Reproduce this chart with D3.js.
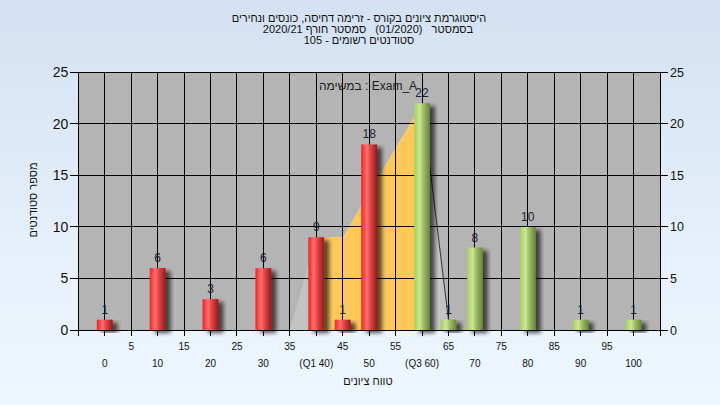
<!DOCTYPE html>
<html><head><meta charset="utf-8">
<script src="https://cdn.jsdelivr.net/npm/d3@7"></script>
<style>
html,body{margin:0;padding:0;}
svg{display:block;font-family:"Liberation Sans",Arial,sans-serif;}
.pre{white-space:pre;}
</style></head>
<body>
<svg id="chart" width="720" height="405"></svg>
<script>
// ---- data ----
const bins = [0, 10, 20, 30, 40, 45, 50, 60, 65, 70, 80, 90, 100];
const counts = [1, 6, 3, 6, 9, 1, 18, 22, 1, 8, 10, 1, 1];
const passMark = 60;
const q1 = 40, q3 = 60;
const curveX = [35, 40, 45, 60, 65, 65];
const curveY = [0, 9, 9, 22, 1, 0];
const minorTickValues = [5, 15, 25, 35, 45, 55, 65, 75, 85, 95];
const majorTickValues = [0, 10, 20, 30, 40, 50, 60, 70, 80, 90, 100];
const majorTickLabels = ["0", "10", "20", "30", "(Q1 40)", "50", "(Q3 60)", "70", "80", "90", "100"];
const yTicks = [0, 5, 10, 15, 20, 25];
const titleLines = [
  "היסטוגרמת ציונים בקורס - זרימה דחיסה, כונסים ונחירים",
  "בסמסטר   (01/2020)   סמסטר חורף 2020/21",
  "סטודנטים רשומים - 105"
];
const legendText = "במשימה : Exam_A";
const xTitle = "טווח ציונים";
const yTitle = "מספר סטודנטים";

// ---- layout ----
const W = 720, H = 405;
const L = 78.3, R = 660, T = 72.3, B = 330;
const svg = d3.select("#chart");
const defs = svg.append("defs");

const bg = defs.append("linearGradient").attr("id","bg").attr("x1",0).attr("y1",0).attr("x2",0).attr("y2",1);
bg.append("stop").attr("offset","0%").attr("stop-color","#d3e1f2");
bg.append("stop").attr("offset","70%").attr("stop-color","#e9f2fc");
bg.append("stop").attr("offset","100%").attr("stop-color","#eef6ff");

function cyl(id, c0, c1, c2, c3){
  const g = defs.append("linearGradient").attr("id",id).attr("x1",0).attr("y1",0).attr("x2",1).attr("y2",0);
  g.append("stop").attr("offset","0%").attr("stop-color",c0);
  g.append("stop").attr("offset","35%").attr("stop-color",c1);
  g.append("stop").attr("offset","55%").attr("stop-color",c2);
  g.append("stop").attr("offset","100%").attr("stop-color",c3);
}
cyl("red","#ff1c1c","#ff7272","#e84848","#8c1c1c");
cyl("green","#a6cf58","#cbe79a","#a4c468","#68803c");

const sh = defs.append("filter").attr("id","shadow").attr("x","-50%").attr("y","-20%").attr("width","200%").attr("height","140%");
sh.append("feGaussianBlur").attr("in","SourceAlpha").attr("stdDeviation",2).attr("result","b");
sh.append("feOffset").attr("in","b").attr("dx",5).attr("dy",3).attr("result","o");
sh.append("feComponentTransfer").attr("in","o").attr("result","s")
  .append("feFuncA").attr("type","linear").attr("slope",0.65);
const m = sh.append("feMerge");
m.append("feMergeNode").attr("in","s");
m.append("feMergeNode").attr("in","SourceGraphic");

svg.append("rect").attr("width",W).attr("height",H).attr("fill","url(#bg)");

const x = d3.scaleLinear().domain([-5,105]).range([L,R]);
const y = d3.scaleLinear().domain([0,25]).range([B,T]);

// plot background
svg.append("rect").attr("x",L).attr("y",T).attr("width",R-L).attr("height",B-T).attr("fill","#b4b4b4");

// curve area (light gray) and yellow IQR part
const pts = curveX.map((v,i)=>[v,curveY[i]]);
const area = d3.area().x(d=>x(d[0])).y0(y(0)).y1(d=>y(d[1]));
svg.append("path").datum(pts).attr("d",area).attr("fill","#c3c3c3");
const cp = defs.append("clipPath").attr("id","iqr");
cp.append("rect").attr("x",x(q1)).attr("y",T).attr("width",x(q3)-x(q1)).attr("height",B-T);
svg.append("path").datum(pts).attr("d",area).attr("fill","#ffc95a").attr("clip-path","url(#iqr)");

// grid
const grid = svg.append("g").attr("stroke","#000").attr("stroke-width",1).attr("shape-rendering","crispEdges");
grid.selectAll("line.h").data(yTicks.filter(v=>v>0)).join("line")
  .attr("x1",L).attr("x2",R).attr("y1",d=>y(d)).attr("y2",d=>y(d));
grid.selectAll("line.v").data(d3.range(0,101,5)).join("line")
  .attr("x1",d=>x(d)).attr("x2",d=>x(d)).attr("y1",T).attr("y2",B);

// dark line on the right flank
const rIdx = curveX.indexOf(q3);
svg.append("path").datum(pts.slice(rIdx, rIdx+2))
  .attr("d", d3.line().x(d=>x(d[0])).y(d=>y(d[1])))
  .attr("stroke","#333").attr("stroke-width",1).attr("fill","none");

// axes lines
const ax = svg.append("g").attr("stroke","#000").attr("stroke-width",1).attr("shape-rendering","crispEdges");
ax.append("line").attr("x1",L).attr("x2",R).attr("y1",B).attr("y2",B);
ax.append("line").attr("x1",L).attr("x2",L).attr("y1",T).attr("y2",B+6);
ax.append("line").attr("x1",R).attr("x2",R).attr("y1",T).attr("y2",B+6);
ax.selectAll("line.lt").data(yTicks).join("line").attr("x1",L-8).attr("x2",L).attr("y1",d=>y(d)).attr("y2",d=>y(d));
ax.selectAll("line.rt").data(yTicks).join("line").attr("x1",R).attr("x2",R+8).attr("y1",d=>y(d)).attr("y2",d=>y(d));
ax.selectAll("line.bt").data(d3.range(0,101,5)).join("line").attr("x1",d=>x(d)).attr("x2",d=>x(d)).attr("y1",B).attr("y2",B+6);

// bars
const bw = x(1.5) - x(0);
const bars = svg.append("g");
bars.selectAll("rect").data(bins.map((b,i)=>({b,c:counts[i]}))).join("rect")
  .attr("x",d=>x(d.b)-bw).attr("width",bw*2)
  .attr("y",d=>y(d.c)).attr("height",d=>y(0)-y(d.c))
  .attr("fill",d=>d.b>=passMark?"url(#green)":"url(#red)")
  .attr("filter","url(#shadow)");
bars.selectAll("text").data(bins.map((b,i)=>({b,c:counts[i]}))).join("text")
  .attr("x",d=>x(d.b)).attr("y",d=>y(d.c)-6).attr("text-anchor","middle")
  .attr("font-size",12).attr("fill","#1c1c34").text(d=>d.c);

// y axis labels
svg.append("g").selectAll("text").data(yTicks).join("text")
  .attr("x",L-10).attr("y",d=>y(d)+5).attr("text-anchor","end").attr("font-size",14).attr("fill","#111").text(d=>d);
svg.append("g").selectAll("text").data(yTicks).join("text")
  .attr("x",R+10).attr("y",d=>y(d)+4.5).attr("text-anchor","start").attr("font-size",12.5).attr("fill","#111").text(d=>d);

// x labels
svg.append("g").selectAll("text").data(minorTickValues).join("text")
  .attr("x",d=>x(d)).attr("y",349.5).attr("text-anchor","middle").attr("font-size",10).attr("fill","#111").text(d=>d);
svg.append("g").selectAll("text").data(majorTickValues).join("text")
  .attr("x",d=>x(d)).attr("y",366.5).attr("text-anchor","middle").attr("font-size",10).attr("fill","#111")
  .text((d,i)=>majorTickLabels[i]);

// titles
svg.append("g").selectAll("text").data(titleLines).join("text")
  .attr("class","pre")
  .attr("x",(d,i)=>i===1?368:359).attr("y",(d,i)=>22+i*11).attr("text-anchor","middle").attr("direction","rtl")
  .attr("font-size",11).attr("fill","#111").text(d=>d);

svg.append("text").attr("x",368).attr("y",384.5).attr("text-anchor","middle").attr("direction","rtl")
  .attr("font-size",11).attr("fill","#111").text(xTitle);
svg.append("text").attr("transform","translate(37,200) rotate(-90)").attr("text-anchor","middle").attr("direction","rtl")
  .attr("font-size",11).attr("fill","#111").text(yTitle);

svg.append("text").attr("x",368).attr("y",89.5).attr("text-anchor","middle")
  .attr("font-size",12).attr("fill","#1c1c1c").text(legendText);
</script>
</body></html>
